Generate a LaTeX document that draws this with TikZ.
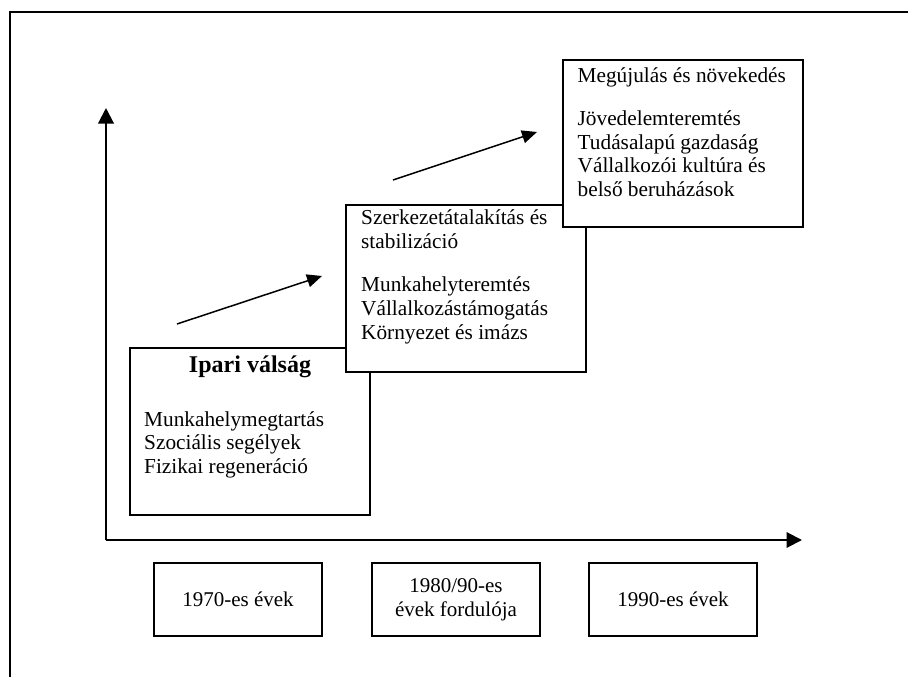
\documentclass[tikz,border=0pt]{standalone}
\usepackage{fontspec}
\setmainfont{Liberation Serif}
\usetikzlibrary{arrows.meta,positioning}

\begin{document}
\begin{tikzpicture}[x=1pt, y=-1pt,
        stage/.style={draw, line width=2pt, fill=white, minimum width=240pt, minimum height=167pt, inner sep=0pt},
        stagetext/.style={anchor=north west, align=left, inner sep=0pt, font=\fontsize{21.3}{23.8}\selectfont},
        decade/.style={draw, line width=2pt, minimum width=168pt, minimum height=73pt, align=center, font=\fontsize{21}{23.8}\selectfont},
        axis/.style={line width=2pt, -{Triangle[length=15.5pt, width=15.5pt]}},
        trend/.style={line width=1.5pt, -{Triangle[length=15pt, width=13pt]}}
    ]
        \useasboundingbox (0,0) rectangle (908,677);
        \draw[line width=2pt] (10,677) -- (10,12) -- (908,12);

        % axes
        \coordinate (origin) at (106,540);
        \coordinate (ytip) at (106,108);
        \coordinate (xtip) at (802,540);
        \draw[axis] (origin) -- (ytip);
        \draw[axis] (origin) -- (xtip);

        % stages
        \node[stage] (crisis) at (250,431.5) {};
        \node[anchor=north, inner sep=0pt, font=\fontsize{24}{26}\selectfont\bfseries] (crisistitle) at ([yshift=-9pt]crisis.north) {Ipari válság};
        \node[stagetext] (crisislist) at ([shift={(15,64)}]crisis.north west) {Munkahelymegtartás\\Szociális segélyek\\Fizikai regeneráció};

        \node[stage] (restruct) at (466,288) {};
        \node[stagetext] (restructtext) at ([shift={(16,6)}]restruct.north west) {Szerkezetátalakítás és\\stabilizáció\\[19.5pt]Munkahelyteremtés\\Vállalkozástámogatás\\Környezet és imázs};

        \node[stage] (renewal) at (682.5,143.5) {};
        \node[stagetext] (renewaltext) at ([shift={(16,8)}]renewal.north west) {Megújulás és növekedés\\[19.5pt]Jövedelemteremtés\\Tudásalapú gazdaság\\Vállalkozói kultúra és\\belső beruházások};

        \coordinate (t1a) at (177,324);
        \coordinate (t1b) at (322,276);
        \coordinate (t2a) at (393,180);
        \coordinate (t2b) at (537,132);
        \draw[trend] (t1a) -- (t1b);
        \draw[trend] (t2a) -- (t2b);

        % decades
        \node[decade] (d70) at (238,599.5) {1970-es évek};
        \node[decade, right=48pt of d70] (d80) {1980/90-es\\évek fordulója};
        \node[decade, right=47pt of d80] (d90) {1990-es évek};
    \end{tikzpicture}
\end{document}
